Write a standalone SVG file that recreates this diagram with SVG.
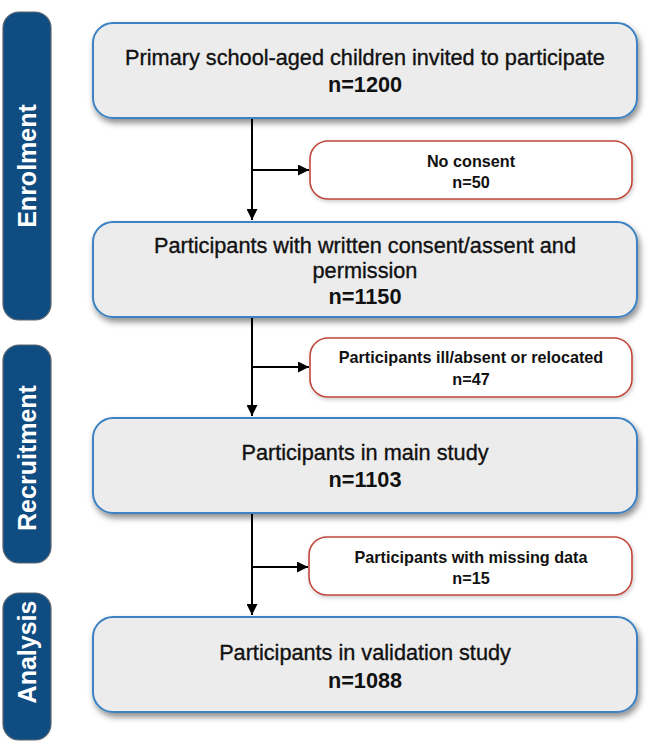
<svg xmlns="http://www.w3.org/2000/svg" width="653" height="743" viewBox="0 0 653 743">
<defs>
<filter id="sh" x="-10%" y="-20%" width="125%" height="150%">
<feDropShadow dx="2" dy="4" stdDeviation="3" flood-color="#000" flood-opacity="0.45"/>
</filter>
<filter id="sh2" x="-10%" y="-20%" width="125%" height="150%">
<feDropShadow dx="1" dy="2" stdDeviation="2" flood-color="#000" flood-opacity="0.2"/>
</filter>
<marker id="arr" viewBox="0 0 10 10" refX="10" refY="5" markerWidth="11" markerHeight="11" markerUnits="userSpaceOnUse" orient="auto">
<path d="M0,0 L10,5 L0,10 Z" fill="#000"/>
</marker>
<style>
.bar{fill:#0f4c82;stroke:#5d6670;stroke-width:1.2}
.bt{fill:#fff;font-family:"Liberation Sans",Arial,sans-serif;font-weight:bold;font-size:25px;text-anchor:middle}
.main{fill:#ececec;stroke:#3c82c2;stroke-width:2;filter:url(#sh)}
.side{fill:#fff;stroke:#c0473b;stroke-width:1.6;filter:url(#sh2)}
.mt{font-family:"Liberation Sans",Arial,sans-serif;font-size:21.7px;fill:#111;stroke:#111;stroke-width:0.35;text-anchor:middle}
.mn{font-family:"Liberation Sans",Arial,sans-serif;font-size:21.7px;font-weight:bold;fill:#111;text-anchor:middle}
.st{font-family:"Liberation Sans",Arial,sans-serif;font-size:16.2px;font-weight:bold;fill:#111;text-anchor:middle}
.ln{stroke:#000;stroke-width:2;fill:none}
</style>
</defs>
<rect width="653" height="743" fill="#fff"/>

<g id="bar-enrolment">
<rect class="bar" x="3" y="12" width="48" height="308" rx="16"/>
<text class="bt" transform="translate(36,166) rotate(-90)">Enrolment</text>
</g>
<g id="bar-recruitment">
<rect class="bar" x="3" y="345" width="48" height="218" rx="16"/>
<text class="bt" transform="translate(36,458) rotate(-90)">Recruitment</text>
</g>
<g id="bar-analysis">
<rect class="bar" x="3" y="593" width="48" height="147" rx="16"/>
<text class="bt" transform="translate(36,652) rotate(-90)">Analysis</text>
</g>

<g id="connectors">
<path class="ln" d="M252,118 V220" marker-end="url(#arr)"/>
<path class="ln" d="M252,170 H309" marker-end="url(#arr)"/>
<path class="ln" d="M252,317 V416" marker-end="url(#arr)"/>
<path class="ln" d="M252,367 H309" marker-end="url(#arr)"/>
<path class="ln" d="M252,513 V615" marker-end="url(#arr)"/>
<path class="ln" d="M252,567 H308" marker-end="url(#arr)"/>
</g>

<g id="box-invited">
<rect class="main" x="93" y="23" width="544" height="95" rx="20"/>
<text class="mt" x="365" y="65">Primary school-aged children invited to participate</text>
<text class="mn" x="365" y="92">n=1200</text>
</g>
<g id="box-no-consent">
<rect class="side" x="310" y="141" width="322" height="58" rx="18"/>
<text class="st" x="471" y="167">No consent</text>
<text class="st" x="471" y="188">n=50</text>
</g>
<g id="box-consent">
<rect class="main" x="93" y="222" width="544" height="95" rx="20"/>
<text class="mt" x="365" y="253">Participants with written consent/assent and</text>
<text class="mt" x="365" y="278">permission</text>
<text class="mn" x="365" y="304">n=1150</text>
</g>
<g id="box-ill">
<rect class="side" x="310" y="338" width="322" height="59" rx="18"/>
<text class="st" x="471" y="363">Participants ill/absent or relocated</text>
<text class="st" x="471" y="385">n=47</text>
</g>
<g id="box-main">
<rect class="main" x="93" y="418" width="544" height="95" rx="20"/>
<text class="mt" x="365" y="460">Participants in main study</text>
<text class="mn" x="365" y="487">n=1103</text>
</g>
<g id="box-missing">
<rect class="side" x="309" y="537" width="323" height="58" rx="18"/>
<text class="st" x="471" y="563">Participants with missing data</text>
<text class="st" x="471" y="584">n=15</text>
</g>
<g id="box-validation">
<rect class="main" x="93" y="617" width="544" height="95" rx="20"/>
<text class="mt" x="365" y="660">Participants in validation study</text>
<text class="mn" x="365" y="688">n=1088</text>
</g>
</svg>
